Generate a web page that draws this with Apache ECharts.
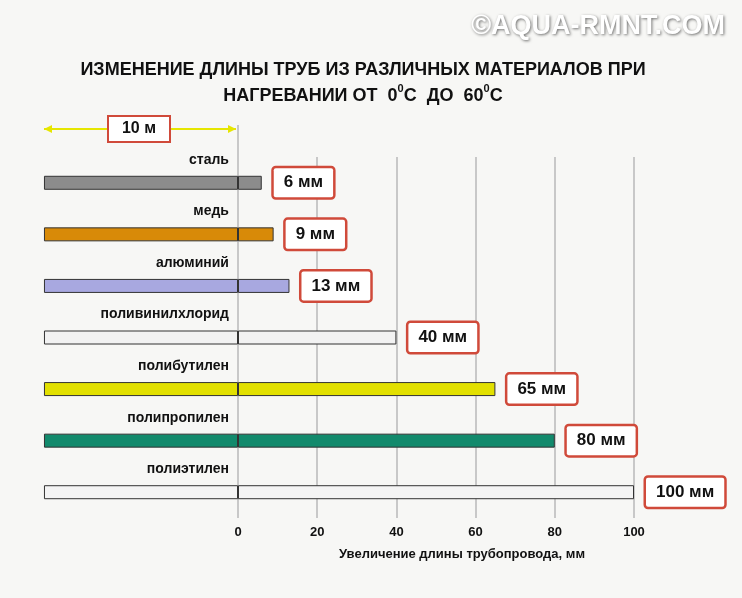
<!DOCTYPE html>
<html><head><meta charset="utf-8">
<script src="https://cdn.jsdelivr.net/npm/echarts@6/dist/echarts.min.js"></script>
<style>html,body{margin:0;padding:0;background:#f7f7f5}#c{width:742px;height:598px}</style>
</head><body><div id="c"></div>
<script>
const categories = ['сталь','медь','алюминий','поливинилхлорид','полибутилен','полипропилен','полиэтилен'];
const values = [6, 9, 13, 40, 65, 80, 100];
const baseLen = [-49, -49, -49, -49, -49, -49, -49];
const colors = ['#8c8c8c','#d88a08','#a8a8e0','#f2f2f2','#e2e000','#128a6c','#f4f4f4'];
const ticks = [0, 20, 40, 60, 80, 100];
const F = 'Liberation Sans, Arial, sans-serif';
const chart = echarts.init(document.getElementById('c'));
chart.setOption({
  backgroundColor: '#f7f7f5',
  animation: false,
  title: [{
    text: 'ИЗМЕНЕНИЕ ДЛИНЫ ТРУБ ИЗ РАЗЛИЧНЫХ МАТЕРИАЛОВ ПРИ\nНАГРЕВАНИИ ОТ  0{s|0}С  ДО  60{s|0}С',
    left: 358, top: 52, textAlign: 'center',
    textStyle: {fontFamily: F, fontSize: 18, fontWeight: 'bold', color: '#111', lineHeight: 26,
      rich: {s: {fontSize: 11, fontWeight: 'bold', verticalAlign: 'top', padding: [0,0,8,0]}}}
  }, {
    text: '©AQUA-RMNT.COM', right: 12, top: 8,
    textStyle: {fontFamily: F, fontSize: 27, fontWeight: 'bold', color: '#fff',
      textShadowColor: 'rgba(0,0,0,0.55)', textShadowBlur: 3, textShadowOffsetX: 1, textShadowOffsetY: 1}
  }],
  grid: {left: 40, right: 108, top: 157, bottom: 80},
  xAxis: {
    type: 'value', min: -50, max: 100, interval: 10,
    name: 'Увеличение длины трубопровода, мм', nameLocation: 'middle', nameGap: 30,
    nameTextStyle: {fontFamily: F, fontSize: 13, fontWeight: 'bold', color: '#111', padding: [0,0,0,250]},
    axisLine: {show: false}, axisTick: {show: false}, splitLine: {show: false},
    axisLabel: {fontFamily: F, fontSize: 13, fontWeight: 'bold', color: '#111',
      formatter: v => (v >= 0 && v % 20 === 0) ? String(v) : ''}
  },
  yAxis: {type: 'category', data: categories, inverse: true, show: false},
  series: [{
    type: 'line', data: [], z: 0,
    markLine: {silent: true, symbol: 'none', label: {show: false}, z: 0,
      lineStyle: {color: '#b8b8b8', type: 'solid', width: 1.5},
      data: ticks.map(t => ({xAxis: t}))}
  }, {
    type: 'bar', stack: 'a', barWidth: 14, z: 3,
    data: baseLen.map((v, i) => ({value: v, itemStyle: {color: colors[i]}})),
    itemStyle: {borderColor: '#333', borderWidth: 1},
    label: {show: true, position: 'top', align: 'right', offset: [88, -4],
      formatter: p => categories[p.dataIndex],
      fontFamily: F, fontSize: 14, fontWeight: 'bold', color: '#111'}
  }, {
    type: 'bar', stack: 'a', barWidth: 14, z: 3,
    data: values.map((v, i) => ({value: v, itemStyle: {color: colors[i]}})),
    itemStyle: {borderColor: '#333', borderWidth: 1},
    label: {show: true, position: 'right', distance: 12, formatter: '{c} мм',
      fontFamily: F, fontSize: 17, fontWeight: 'bold', color: '#111',
      backgroundColor: '#fff', borderColor: '#d04a3a', borderWidth: 2.5, borderRadius: 2,
      padding: [6, 10, 6, 10]}
  }],
  graphic: [
    {type: 'line', shape: {x1: 44, y1: 129, x2: 236, y2: 129}, style: {stroke: '#e6e600', lineWidth: 2}},
    {type: 'polygon', shape: {points: [[44,129],[52,125],[52,133]]}, style: {fill: '#e6e600'}},
    {type: 'polygon', shape: {points: [[236,129],[228,125],[228,133]]}, style: {fill: '#e6e600'}},
    {type: 'line', shape: {x1: 238, y1: 125, x2: 238, y2: 157}, style: {stroke: '#b8b8b8', lineWidth: 1.5}},
    {type: 'rect', shape: {x: 108, y: 116, width: 62, height: 26}, style: {fill: '#fff', stroke: '#d04a3a', lineWidth: 2}},
    {type: 'text', x: 139, y: 129, style: {text: '10 м', fill: '#111', font: 'bold 16px ' + F, align: 'center', verticalAlign: 'middle'}}
  ]
});
</script></body></html>
